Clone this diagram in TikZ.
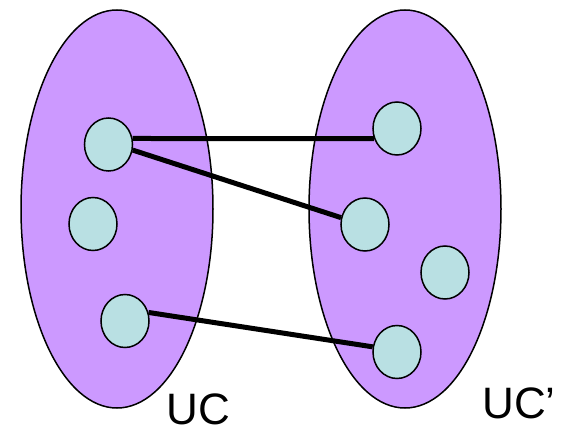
\documentclass[tikz,border=0pt]{standalone}
\usepackage{fontspec}
\setmainfont{Liberation Sans}
\usetikzlibrary{shapes.geometric}
\definecolor{setfill}{HTML}{CC99FF}
\definecolor{elemfill}{HTML}{B9E0E3}
\begin{document}
\begin{tikzpicture}[x=1pt,y=-1pt,
  setshape/.style={ellipse,draw=black,line width=1.5pt,fill=setfill,
    minimum width=192pt,minimum height=398pt,inner sep=0pt},
  elem/.style={ellipse,draw=black,line width=1.5pt,fill=elemfill,
    minimum width=48pt,minimum height=53pt,inner sep=0pt},
  link/.style={line width=5pt,black},
  setlabel/.style={font=\fontsize{44pt}{50pt}\selectfont,inner sep=0pt}]
  \useasboundingbox (0,0) rectangle (571,428);
  % the two sets
  \node[setshape] (L) at (117,209) {};
  \node[setshape] (R) at (405,209) {};
  % elements of the left set
  \node[elem] (a) at (108.5,144.5) {};
  \node[elem] (b) at (93,224) {};
  \node[elem] (c) at (125,321) {};
  % elements of the right set
  \node[elem] (d) at (397,128.5) {};
  \node[elem] (e) at (365,224.5) {};
  \node[elem] (f) at (445,272.5) {};
  \node[elem] (g) at (397,352) {};
  % correspondences
  \draw[link] (a.14) -- (d.204);
  \draw[link] (a.-13) -- (e.164);
  \draw[link] (c.20) -- (g.168);
  % labels
  \node[setlabel,anchor=base] (lu) at (198.5,424) {UC};
  \node[setlabel,anchor=base] (lr) at (519,418) {UC’};
\end{tikzpicture}
\end{document}
